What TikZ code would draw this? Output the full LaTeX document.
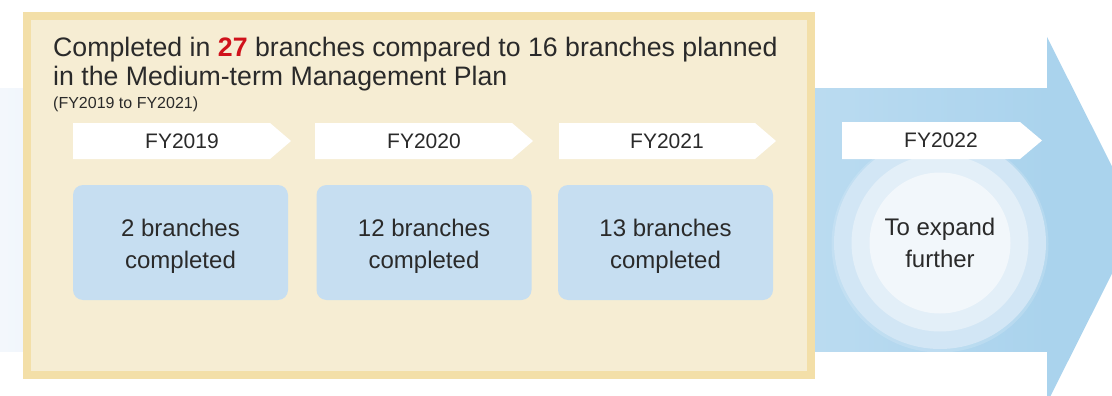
\documentclass[tikz,border=0pt]{standalone}
\usepackage{fontspec}
\setmainfont{Liberation Sans}
\usepackage{tikz}
\usepackage{color}
\usetikzlibrary{positioning}

\definecolor{tanfill}{HTML}{F6EDD3}
\definecolor{tanedge}{HTML}{F3DFA8}
\definecolor{planblue}{HTML}{C6DEF1}
\definecolor{ink}{HTML}{2A2A2A}
\definecolor{hired}{HTML}{D0121B}
\definecolor{arrowpale}{HTML}{F3F7FC}
\definecolor{arrowblue}{HTML}{AAD3ED}
\definecolor{ringa}{HTML}{D2E6F5}
\definecolor{ringb}{HTML}{E3EFF8}
\definecolor{ringc}{HTML}{F2F7FB}

\tikzset{
  titletext/.style={anchor=base west, inner sep=0pt, text=ink, font=\fontsize{26.7}{28}\selectfont},
  subtext/.style={anchor=base west, inner sep=0pt, text=ink, font=\fontsize{16}{18}\selectfont},
  tag/.style={fill=white},
  tagtext/.style={inner sep=0pt, text=ink, font=\fontsize{21}{24}\selectfont},
  planbox/.style={fill=planblue, rounded corners=10pt, minimum width=215pt, minimum height=115pt},
  boxtext/.style={align=center, text=ink, font=\fontsize{24}{31.5}\selectfont},
  ring/.style={circle, inner sep=0pt},
  goaltext/.style={align=center, text=ink, font=\fontsize{24}{32}\selectfont}
}

\begin{document}
\begin{tikzpicture}[x=1pt,y=1pt]
  \useasboundingbox (0,0) rectangle (1112,-396);
  \clip (0,0) rectangle (1112,-396);

  % big timeline arrow behind everything
  \shade[left color=arrowpale, right color=arrowblue] (0,-89) rectangle (1048,-351);
  \fill[arrowblue] (1047,-37) -- (1139,-220) -- (1047,-403) -- cycle;

  % plan period panel
  \draw[tanedge, fill=tanfill, line width=8pt] (27,-16) rectangle (811,-375);

  \node[titletext] (title1) at (53,-57)
    {Completed in {\bfseries\color{hired}27} branches compared to 16 branches planned};
  \node[titletext] (title2) at (53,-85) {in the Medium-term Management Plan};
  \node[subtext] (period) at (53,-109) {(FY2019 to FY2021)};

  % year tags
  \fill[tag] (73,-123) -- (270,-123) -- (291,-141) -- (270,-159) -- (73,-159) -- cycle;
  \node[tagtext] (fy2019) at (182,-141) {FY2019};
  \fill[tag] (315,-123) -- (512,-123) -- (533,-141) -- (512,-159) -- (315,-159) -- cycle;
  \node[tagtext] (fy2020) at (424,-141) {FY2020};
  \fill[tag] (559,-123) -- (755,-123) -- (776,-141) -- (755,-159) -- (559,-159) -- cycle;
  \node[tagtext] (fy2021) at (667,-141) {FY2021};

  % results per year
  \node[planbox] (done2019) at (180.5,-242.5) {};
  \node[boxtext] (txt2019) at ([yshift=-4pt]done2019.center) {2 branches\\completed};
  \node[planbox] (done2020) at (424,-242.5) {};
  \node[boxtext] (txt2020) at ([yshift=-4pt]done2020.center) {12 branches\\completed};
  \node[planbox] (done2021) at (665.5,-242.5) {};
  \node[boxtext] (txt2021) at ([yshift=-4pt]done2021.center) {13 branches\\completed};

  % next year target
  \fill[white, opacity=0.15] (940,-244) circle (108.5);
  \node[ring, fill=ringa, minimum size=212pt] (glow) at (940,-243) {};
  \node[ring, fill=ringb, minimum size=177pt] (halo) at (glow) {};
  \node[ring, fill=ringc, minimum size=141pt] (core) at (glow) {};
  \node[goaltext] (expand) at (940,-243) {To expand\\further};

  \fill[tag] (842,-122) -- (1020,-122) -- (1042,-140.5) -- (1020,-159) -- (842,-159) -- cycle;
  \node[tagtext] (fy2022) at (941,-140.5) {FY2022};
\end{tikzpicture}
\end{document}
